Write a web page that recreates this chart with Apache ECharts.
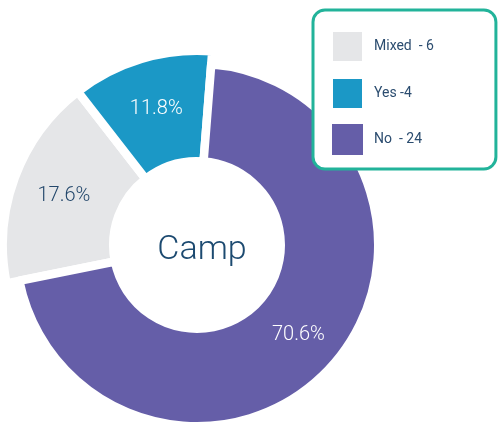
<!DOCTYPE html>
<html>
<head>
<meta charset="utf-8">
<style>
  html, body { margin: 0; padding: 0; background: #fff; }
  #chart { width: 500px; height: 424px; }
</style>
<script src="https://cdn.jsdelivr.net/npm/echarts@6/dist/echarts.min.js"></script>
</head>
<body>
<div id="chart"></div>
<script>
// data, clockwise from the top
const names = ['No', 'Mixed', 'Yes'];
const counts = [24, 6, 4];
const colors = ['#655ea8', '#e5e6e8', '#1b98c6'];
const labelColors = ['#ffffff', '#23476b', '#ffffff'];
// legend order + text
const legendOrder = ['Mixed', 'Yes', 'No'];
const legendText = ['Mixed  - 6', 'Yes -4', 'No  - 24'];
const centerTitle = 'Camp';

const total = counts.reduce((a, b) => a + b, 0);
const center = [197, 245];

// purple slice is drawn with a smaller outer radius than the other two
function makeData(showBig) {
  return names.map((n, i) => {
    const visible = (n === 'No') !== showBig;
    return {
      name: n,
      value: counts[i],
      itemStyle: visible
        ? { color: colors[i], borderColor: '#fff', borderWidth: 8.5 }
        : { color: 'rgba(0,0,0,0)', borderWidth: 0 },
      label: { show: visible, color: labelColors[i] }
    };
  });
}

const baseSeries = {
  type: 'pie',
  center: center,
  startAngle: 85.5,
  clockwise: true,
  silent: true,
  avoidLabelOverlap: false,
  label: {
    position: 'inside',
    fontFamily: 'Roboto',
    fontSize: 20,
    fontWeight: 300,
    formatter: p => (p.value / total * 100).toFixed(1) + '%'
  },
  labelLine: { show: false },
  emphasis: { disabled: true }
};

const chart = echarts.init(document.getElementById('chart'));
chart.setOption({
  animation: false,
  title: {
    text: centerTitle,
    left: center[0],
    top: center[1],
    textAlign: 'center',
    textVerticalAlign: 'middle',
    textStyle: { fontFamily: 'Roboto', fontWeight: 300, fontSize: 34, color: '#1c4a70' }
  },
  legend: {
    orient: 'vertical',
    left: 313,
    top: 10,
    data: legendOrder.map(n => ({ name: n, itemStyle: { color: colors[names.indexOf(n)] } })),
    itemWidth: 31,
    itemHeight: 31,
    itemGap: 14,
    icon: 'rect',
    padding: [20, 62, 14, 18],
    borderColor: '#22b39a',
    borderWidth: 3,
    borderRadius: 12,
    backgroundColor: '#fff',
    selectedMode: false,
    formatter: n => legendText[legendOrder.indexOf(n)],
    textStyle: { fontFamily: 'Roboto', fontSize: 14, color: '#2b4c6f', padding: [0, 0, 0, 6] }
  },
  series: [
    Object.assign({}, baseSeries, { radius: [83.75, 194.25], data: makeData(true) }),
    Object.assign({}, baseSeries, { radius: [83.75, 181.25], data: makeData(false) })
  ]
});
</script>
</body>
</html>
